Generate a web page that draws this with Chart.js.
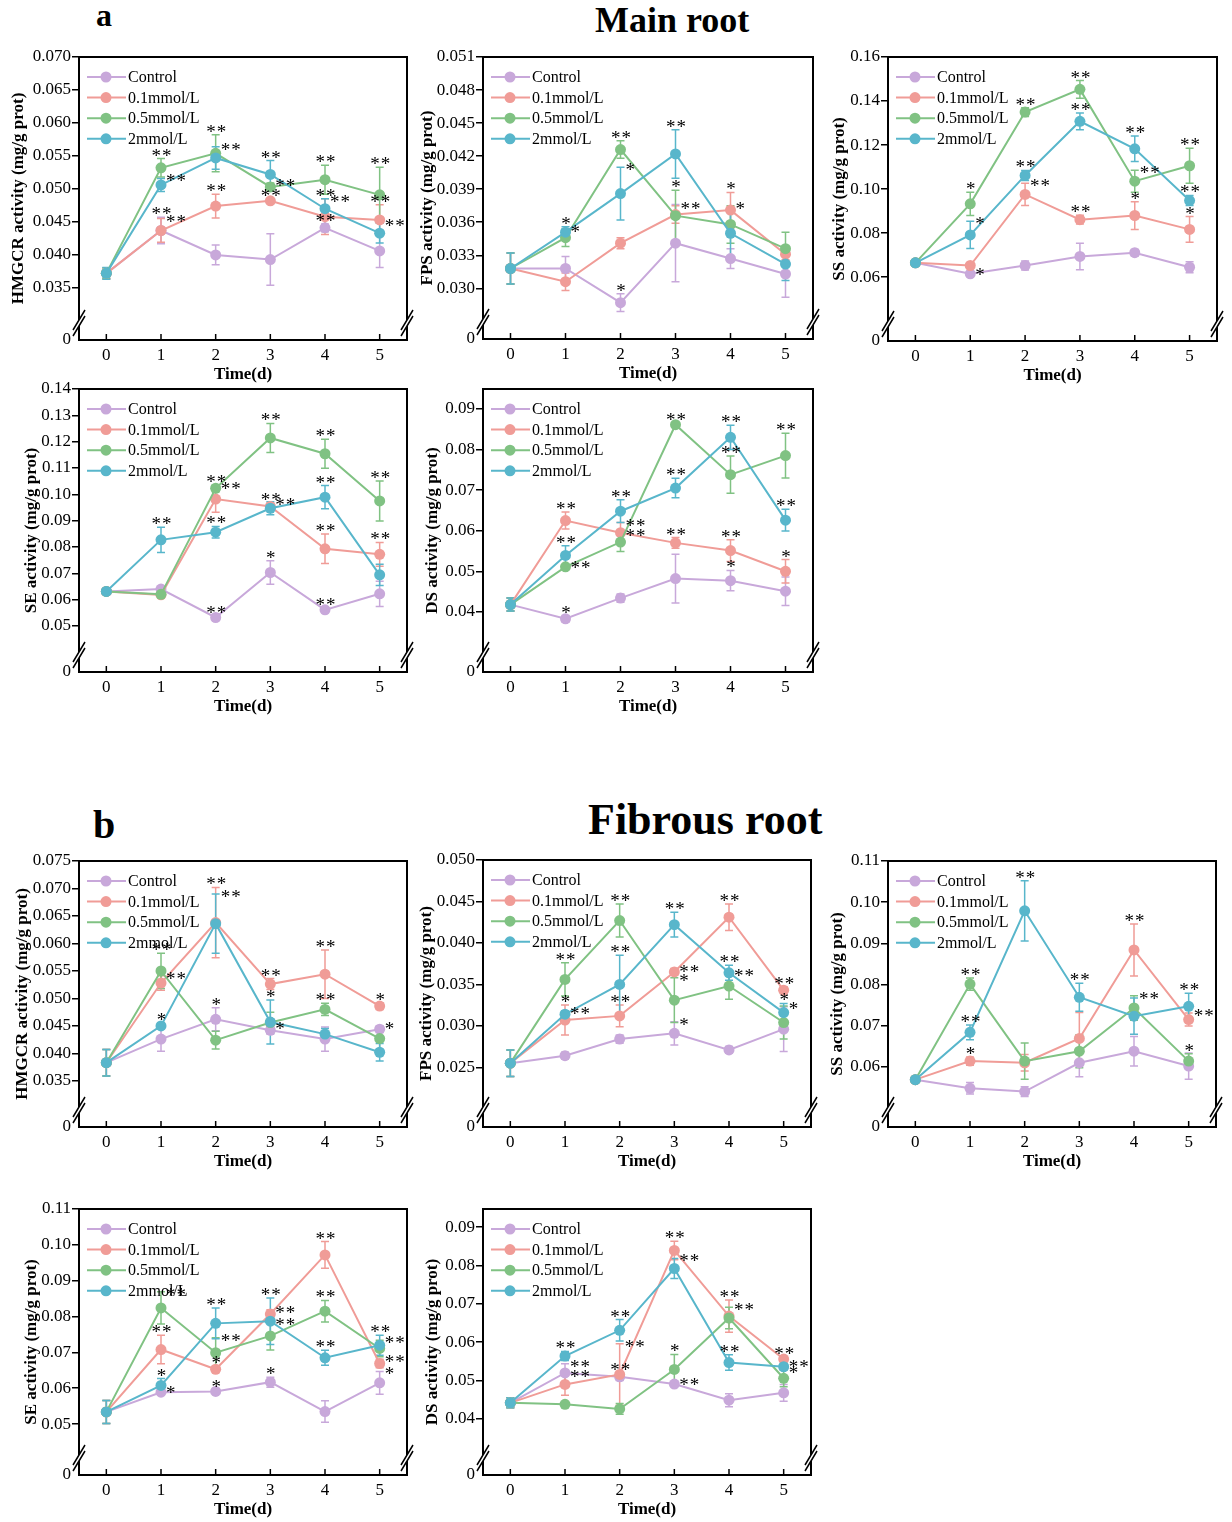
<!DOCTYPE html>
<html>
<head>
<meta charset="utf-8">
<title>Main root / Fibrous root</title>
<script src="https://cdn.jsdelivr.net/npm/chart.js@4.4.1/dist/chart.umd.min.js"></script>
<style>
  body { margin: 0; background: #fff; }
  #page { position: relative; width: 1232px; height: 1522px; overflow: hidden; font-family: "Liberation Serif", serif; color: #000; }
  #page canvas { position: absolute; }
  .lbl { position: absolute; font-weight: bold; line-height: 1; white-space: nowrap; }
</style>
</head>
<body>
<div id="page">
  <div class="lbl" style="left:96px;top:-1px;font-size:32px">a</div>
  <div class="lbl" style="left:595px;top:2px;font-size:36px">Main root</div>
  <div class="lbl" style="left:93px;top:805px;font-size:40px">b</div>
  <div class="lbl" style="left:588px;top:798px;font-size:44px">Fibrous root</div>
</div>
<script>
const days = [0, 1, 2, 3, 4, 5];
const groups = ['Control', '0.1mmol/L', '0.5mmol/L', '2mmol/L'];
const groupColors = ['#C8A8DA', '#F09C97', '#80C283', '#58B6CB'];

// rows: Control, 0.1, 0.5, 2 mmol/L ; "**" = above error bar, ">**" = right of it

// Main root - HMGCR
const mainHmgcrTicks = [0.035, 0.040, 0.045, 0.050, 0.055, 0.060, 0.065, 0.070];
const mainHmgcrMean = [
  [0.0372, 0.0437, 0.0400, 0.0393, 0.0441, 0.0406],
  [0.0372, 0.0437, 0.0474, 0.0482, 0.0458, 0.0453],
  [0.0372, 0.0532, 0.0554, 0.0503, 0.0514, 0.0491],
  [0.0372, 0.0506, 0.0547, 0.0522, 0.0470, 0.0433]];
const mainHmgcrSd = [
  [0.0008, 0.0020, 0.0015, 0.0039, 0.0006, 0.0025],
  [0.0008, 0.0018, 0.0018, 0.0003, 0.0027, 0.0023],
  [0.0008, 0.0014, 0.0028, 0.0006, 0.0022, 0.0042],
  [0.0009, 0.0010, 0.0017, 0.0021, 0.0015, 0.0015]];
const mainHmgcrSig = [
  ['', '**', '', '', '**', ''],
  ['', '>**', '**', '**', '**', '**'],
  ['', '**', '**', '>**', '**', '**'],
  ['', '>**', '>**', '**', '>**', '>**']];

// Main root - FPS
const mainFpsTicks = [0.030, 0.033, 0.036, 0.039, 0.042, 0.045, 0.048, 0.051];
const mainFpsMean = [
  [0.0318, 0.0318, 0.0287, 0.0341, 0.0327, 0.0313],
  [0.0318, 0.0306, 0.0341, 0.0367, 0.0371, 0.0331],
  [0.0318, 0.0346, 0.0426, 0.0366, 0.0358, 0.0336],
  [0.0318, 0.0351, 0.0386, 0.0422, 0.0350, 0.0322]];
const mainFpsSd = [
  [0.0014, 0.0011, 0.0008, 0.0035, 0.0009, 0.0021],
  [0.0014, 0.0008, 0.0005, 0.0008, 0.0016, 0.0005],
  [0.0014, 0.0008, 0.0008, 0.0023, 0.0017, 0.0015],
  [0.0014, 0.0005, 0.0024, 0.0022, 0.0023, 0.0015]];
const mainFpsSig = [
  ['', '', '*', '', '', ''],
  ['', '', '', '>**', '*', ''],
  ['', '>*', '**', '*', '>*', ''],
  ['', '*', '>*', '**', '', '']];

// Main root - SS
const mainSsTicks = [0.06, 0.08, 0.10, 0.12, 0.14, 0.16];
const mainSsMean = [
  [0.0665, 0.0615, 0.0653, 0.0694, 0.0711, 0.0645],
  [0.0665, 0.0653, 0.0976, 0.0861, 0.0880, 0.0817],
  [0.0665, 0.0933, 0.1350, 0.1453, 0.1036, 0.1106],
  [0.0665, 0.0792, 0.1062, 0.1308, 0.1183, 0.0948]];
const mainSsSd = [
  [0.0010, 0.0007, 0.0020, 0.0060, 0.0015, 0.0025],
  [0.0010, 0.0010, 0.0050, 0.0020, 0.0063, 0.0058],
  [0.0010, 0.0053, 0.0020, 0.0040, 0.0050, 0.0080],
  [0.0010, 0.0062, 0.0023, 0.0038, 0.0058, 0.0023]];
const mainSsSig = [
  ['', '>*', '', '', '', ''],
  ['', '', '>**', '**', '*', '*'],
  ['', '*', '**', '**', '>**', '**'],
  ['', '>*', '**', '**', '**', '**']];

// Main root - SE
const mainSeTicks = [0.05, 0.06, 0.07, 0.08, 0.09, 0.10, 0.11, 0.12, 0.13, 0.14];
const mainSeMean = [
  [0.0631, 0.0640, 0.0532, 0.0703, 0.0561, 0.0622],
  [0.0631, 0.0618, 0.0982, 0.0954, 0.0793, 0.0772],
  [0.0631, 0.0620, 0.1023, 0.1214, 0.1154, 0.0975],
  [0.0631, 0.0827, 0.0856, 0.0947, 0.0989, 0.0694]];
const mainSeSd = [
  [0.0008, 0.0008, 0.0006, 0.0045, 0.0007, 0.0048],
  [0.0008, 0.0008, 0.0050, 0.0012, 0.0056, 0.0045],
  [0.0008, 0.0008, 0.0012, 0.0055, 0.0055, 0.0076],
  [0.0008, 0.0048, 0.0022, 0.0025, 0.0044, 0.0040]];
const mainSeSig = [
  ['', '', '**', '*', '**', ''],
  ['', '', '>**', '**', '**', '**'],
  ['', '', '**', '**', '**', '**'],
  ['', '**', '**', '>**', '**', '']];

// Main root - DS
const mainDsTicks = [0.04, 0.05, 0.06, 0.07, 0.08, 0.09];
const mainDsMean = [
  [0.0418, 0.0383, 0.0434, 0.0482, 0.0477, 0.0451],
  [0.0418, 0.0625, 0.0595, 0.0570, 0.0551, 0.0500],
  [0.0418, 0.0511, 0.0572, 0.0861, 0.0738, 0.0785],
  [0.0418, 0.0539, 0.0648, 0.0705, 0.0830, 0.0626]];
const mainDsSd = [
  [0.0016, 0.0008, 0.0010, 0.0060, 0.0025, 0.0035],
  [0.0016, 0.0021, 0.0025, 0.0013, 0.0027, 0.0029],
  [0.0016, 0.0005, 0.0023, 0.0005, 0.0046, 0.0055],
  [0.0016, 0.0024, 0.0028, 0.0024, 0.0030, 0.0027]];
const mainDsSig = [
  ['', '*', '', '', '*', ''],
  ['', '**', '>**', '**', '**', '*'],
  ['', '>**', '>**', '**', '**', '**'],
  ['', '**', '**', '**', '**', '**']];

// Fibrous root - HMGCR
const fibHmgcrTicks = [0.035, 0.040, 0.045, 0.050, 0.055, 0.060, 0.065, 0.070, 0.075];
const fibHmgcrMean = [
  [0.0383, 0.0426, 0.0462, 0.0442, 0.0426, 0.0444],
  [0.0383, 0.0528, 0.0638, 0.0526, 0.0544, 0.0486],
  [0.0383, 0.0550, 0.0424, 0.0456, 0.0480, 0.0427],
  [0.0383, 0.0450, 0.0636, 0.0457, 0.0435, 0.0402]];
const fibHmgcrSd = [
  [0.0024, 0.0022, 0.0021, 0.0007, 0.0022, 0.0006],
  [0.0024, 0.0013, 0.0064, 0.0010, 0.0044, 0.0006],
  [0.0024, 0.0032, 0.0016, 0.0019, 0.0011, 0.0021],
  [0.0024, 0.0005, 0.0054, 0.0040, 0.0010, 0.0016]];
const fibHmgcrSig = [
  ['', '', '*', '>*', '', '>*'],
  ['', '>**', '**', '**', '**', '*'],
  ['', '**', '', '', '**', ''],
  ['', '*', '>**', '*', '', '']];

// Fibrous root - FPS
const fibFpsTicks = [0.025, 0.030, 0.035, 0.040, 0.045, 0.050];
const fibFpsMean = [
  [0.0255, 0.0264, 0.0284, 0.0291, 0.0271, 0.0296],
  [0.0255, 0.0307, 0.0312, 0.0365, 0.0431, 0.0343],
  [0.0255, 0.0356, 0.0427, 0.0331, 0.0348, 0.0304],
  [0.0255, 0.0314, 0.0350, 0.0422, 0.0364, 0.0316]];
const fibFpsSd = [
  [0.0016, 0.0004, 0.0005, 0.0014, 0.0004, 0.0027],
  [0.0016, 0.0018, 0.0013, 0.0004, 0.0016, 0.0004],
  [0.0016, 0.0020, 0.0020, 0.0027, 0.0016, 0.0020],
  [0.0016, 0.0004, 0.0035, 0.0015, 0.0009, 0.0011]];
const fibFpsSig = [
  ['', '', '', '>*', '', ''],
  ['', '*', '**', '>**', '**', '**'],
  ['', '**', '**', '>*', '>**', '>*'],
  ['', '>**', '**', '**', '**', '*']];

// Fibrous root - SS
const fibSsTicks = [0.06, 0.07, 0.08, 0.09, 0.10, 0.11];
const fibSsMean = [
  [0.0569, 0.0548, 0.0540, 0.0610, 0.0638, 0.0602],
  [0.0569, 0.0614, 0.0610, 0.0669, 0.0884, 0.0715],
  [0.0569, 0.0801, 0.0614, 0.0638, 0.0743, 0.0614],
  [0.0569, 0.0684, 0.0979, 0.0769, 0.0723, 0.0747]];
const fibSsSd = [
  [0.0005, 0.0014, 0.0012, 0.0034, 0.0036, 0.0032],
  [0.0005, 0.0010, 0.0020, 0.0063, 0.0063, 0.0016],
  [0.0005, 0.0015, 0.0044, 0.0040, 0.0030, 0.0018],
  [0.0005, 0.0018, 0.0073, 0.0034, 0.0044, 0.0032]];
const fibSsSig = [
  ['', '', '', '', '', ''],
  ['', '*', '', '', '**', '>**'],
  ['', '**', '', '', '>**', '*'],
  ['', '**', '**', '**', '', '**']];

// Fibrous root - SE
const fibSeTicks = [0.05, 0.06, 0.07, 0.08, 0.09, 0.10, 0.11];
const fibSeMean = [
  [0.0534, 0.0589, 0.0591, 0.0617, 0.0535, 0.0615],
  [0.0534, 0.0708, 0.0653, 0.0807, 0.0972, 0.0669],
  [0.0534, 0.0824, 0.0699, 0.0746, 0.0815, 0.0711],
  [0.0534, 0.0608, 0.0781, 0.0787, 0.0685, 0.0720]];
const fibSeSd = [
  [0.0032, 0.0006, 0.0005, 0.0014, 0.0030, 0.0032],
  [0.0032, 0.0040, 0.0008, 0.0012, 0.0037, 0.0012],
  [0.0032, 0.0045, 0.0042, 0.0039, 0.0030, 0.0023],
  [0.0032, 0.0019, 0.0043, 0.0065, 0.0021, 0.0028]];
const fibSeSig = [
  ['', '>*', '*', '*', '', '>*'],
  ['', '**', '*', '>**', '**', '>**'],
  ['', '>**', '>**', '>**', '**', '>**'],
  ['', '*', '**', '**', '**', '**']];

// Fibrous root - DS
const fibDsTicks = [0.04, 0.05, 0.06, 0.07, 0.08, 0.09];
const fibDsMean = [
  [0.0442, 0.0520, 0.0510, 0.0491, 0.0449, 0.0468],
  [0.0442, 0.0490, 0.0516, 0.0839, 0.0668, 0.0556],
  [0.0442, 0.0438, 0.0426, 0.0529, 0.0663, 0.0506],
  [0.0442, 0.0564, 0.0631, 0.0792, 0.0547, 0.0536]];
const fibDsSd = [
  [0.0013, 0.0024, 0.0010, 0.0005, 0.0017, 0.0022],
  [0.0013, 0.0028, 0.0080, 0.0024, 0.0042, 0.0005],
  [0.0013, 0.0007, 0.0014, 0.0039, 0.0028, 0.0022],
  [0.0013, 0.0012, 0.0028, 0.0026, 0.0020, 0.0008]];
const fibDsSig = [
  ['', '>**', '**', '>**', '', ''],
  ['', '>**', '>**', '**', '**', '**'],
  ['', '', '', '*', '>**', '>*'],
  ['', '**', '**', '>**', '**', '>**']];

// layout: box = plot area [left, top, right, bottom] on the page
const panels = [
  { title: 'HMGCR activity (mg/g prot)', mean: mainHmgcrMean, sd: mainHmgcrSd, sig: mainHmgcrSig, ticks: mainHmgcrTicks, dec: 3, yMin: 0.0271, yMax: 0.070, box: [79, 57, 407, 340], titleX: 18 },
  { title: 'FPS activity (mg/g prot)', mean: mainFpsMean, sd: mainFpsSd, sig: mainFpsSig, ticks: mainFpsTicks, dec: 3, yMin: 0.0254, yMax: 0.051, box: [483, 57, 813, 339], titleX: 427 },
  { title: 'SS activity (mg/g prot)', mean: mainSsMean, sd: mainSsSd, sig: mainSsSig, ticks: mainSsTicks, dec: 2, yMin: 0.031, yMax: 0.16, box: [888, 57, 1217, 341], titleX: 839 },
  { title: 'SE activity (mg/g prot)', mean: mainSeMean, sd: mainSeSd, sig: mainSeSig, ticks: mainSeTicks, dec: 2, yMin: 0.0325, yMax: 0.14, box: [79, 389, 407, 672], titleX: 31 },
  { title: 'DS activity (mg/g prot)', mean: mainDsMean, sd: mainDsSd, sig: mainDsSig, ticks: mainDsTicks, dec: 2, yMin: 0.0252, yMax: 0.0949, box: [483, 389, 813, 672], titleX: 432 },
  { title: 'HMGCR activity (mg/g prot)', mean: fibHmgcrMean, sd: fibHmgcrSd, sig: fibHmgcrSig, ticks: fibHmgcrTicks, dec: 3, yMin: 0.0266, yMax: 0.075, box: [79, 861, 407, 1127], titleX: 22 },
  { title: 'FPS activity (mg/g prot)', mean: fibFpsMean, sd: fibFpsSd, sig: fibFpsSig, ticks: fibFpsTicks, dec: 3, yMin: 0.0178, yMax: 0.050, box: [483, 860, 811, 1127], titleX: 426 },
  { title: 'SS activity (mg/g prot)', mean: fibSsMean, sd: fibSsSd, sig: fibSsSig, ticks: fibSsTicks, dec: 2, yMin: 0.0454, yMax: 0.11, box: [888, 861, 1216, 1127], titleX: 837 },
  { title: 'SE activity (mg/g prot)', mean: fibSeMean, sd: fibSeSd, sig: fibSeSig, ticks: fibSeTicks, dec: 2, yMin: 0.0358, yMax: 0.11, box: [79, 1209, 407, 1475], titleX: 31 },
  { title: 'DS activity (mg/g prot)', mean: fibDsMean, sd: fibDsSd, sig: fibDsSig, ticks: fibDsTicks, dec: 2, yMin: 0.0254, yMax: 0.0947, box: [483, 1209, 811, 1475], titleX: 432 }
];

const serif = 'Liberation Serif';

function makeExtras(p) {
  return {
    id: 'extras',
    beforeDatasetsDraw(chart) {
      const ctx = chart.ctx, xs = chart.scales.x, ys = chart.scales.y;
      ctx.save();
      ctx.lineWidth = 1.5;
      p.mean.forEach((row, i) => {
        ctx.strokeStyle = groupColors[i];
        row.forEach((v, j) => {
          const x = xs.getPixelForValue(days[j]);
          const y1 = ys.getPixelForValue(v + p.sd[i][j]);
          const y2 = ys.getPixelForValue(v - p.sd[i][j]);
          ctx.beginPath();
          ctx.moveTo(x, y1); ctx.lineTo(x, y2);
          ctx.moveTo(x - 4, y1); ctx.lineTo(x + 4, y1);
          ctx.moveTo(x - 4, y2); ctx.lineTo(x + 4, y2);
          ctx.stroke();
        });
      });
      ctx.restore();
    },
    afterDatasetsDraw(chart) {
      const ctx = chart.ctx, xs = chart.scales.x, ys = chart.scales.y;
      ctx.save();
      ctx.fillStyle = '#000';
      ctx.font = '19px "' + serif + '"';
      ctx.textBaseline = 'middle';
      ctx.letterSpacing = '1px';
      p.sig.forEach((row, i) => {
        row.forEach((s, j) => {
          if (!s) return;
          const x = xs.getPixelForValue(days[j]);
          const yTop = ys.getPixelForValue(p.mean[i][j] + p.sd[i][j]);
          if (s[0] === '>') {
            ctx.textAlign = 'left';
            ctx.fillText(s.slice(1), x + 5, yTop + 4);
          } else {
            ctx.textAlign = 'center';
            ctx.fillText(s, x + 1, yTop - 2);
          }
        });
      });
      ctx.restore();
    },
    afterDraw(chart) {
      const ctx = chart.ctx, ca = chart.chartArea, xs = chart.scales.x;
      ctx.save();
      // top and right frame
      ctx.strokeStyle = '#000';
      ctx.lineWidth = 2;
      ctx.beginPath();
      ctx.moveTo(ca.left - 1, ca.top);
      ctx.lineTo(ca.right, ca.top);
      ctx.lineTo(ca.right, ca.bottom + 1);
      ctx.stroke();
      // inward x ticks
      ctx.lineWidth = 1.5;
      days.forEach(d => {
        const x = xs.getPixelForValue(d);
        ctx.beginPath(); ctx.moveTo(x, ca.bottom); ctx.lineTo(x, ca.bottom - 6); ctx.stroke();
      });
      // axis break marks
      [ca.left, ca.right].forEach(x => {
        const cy = ca.bottom - 17;
        ctx.fillStyle = '#fff';
        ctx.beginPath();
        ctx.moveTo(x - 6, cy + 13); ctx.lineTo(x + 6, cy - 7);
        ctx.lineTo(x + 6, cy - 13); ctx.lineTo(x - 6, cy + 7);
        ctx.closePath(); ctx.fill();
        ctx.lineWidth = 1.5;
        ctx.beginPath();
        ctx.moveTo(x - 6, cy + 13); ctx.lineTo(x + 6, cy - 7);
        ctx.moveTo(x - 6, cy + 7); ctx.lineTo(x + 6, cy - 13);
        ctx.stroke();
      });
      // legend
      ctx.font = '16px "' + serif + '"';
      ctx.textBaseline = 'middle';
      ctx.textAlign = 'left';
      groups.forEach((g, i) => {
        const y = ca.top + 20 + i * 20.6;
        ctx.strokeStyle = groupColors[i];
        ctx.lineWidth = 2;
        ctx.beginPath(); ctx.moveTo(ca.left + 8, y); ctx.lineTo(ca.left + 47, y); ctx.stroke();
        ctx.fillStyle = groupColors[i];
        ctx.beginPath(); ctx.arc(ca.left + 27, y, 5.5, 0, Math.PI * 2); ctx.fill();
        ctx.fillStyle = '#000';
        ctx.fillText(g, ca.left + 49, y + 1);
      });
      ctx.restore();
    }
  };
}

const page = document.getElementById('page');
panels.forEach(p => {
  const [bl, bt, br, bb] = p.box;
  const left = p.titleX - 14;
  const padL = bl - left, padT = 12, padR = 14, padB = 50;
  const cv = document.createElement('canvas');
  cv.width = padL + (br - bl) + padR;
  cv.height = padT + (bb - bt) + padB;
  cv.style.left = left + 'px';
  cv.style.top = (bt - padT) + 'px';
  page.appendChild(cv);

  new Chart(cv, {
    type: 'line',
    data: {
      datasets: p.mean.map((row, i) => ({
        label: groups[i],
        data: row.map((v, j) => ({ x: days[j], y: v })),
        borderColor: groupColors[i],
        backgroundColor: groupColors[i],
        pointBackgroundColor: groupColors[i],
        pointBorderColor: groupColors[i],
        borderWidth: 2,
        pointRadius: 5.5,
        pointBorderWidth: 0,
        tension: 0,
        order: 3 - i
      }))
    },
    options: {
      responsive: false,
      animation: false,
      layout: { padding: { left: 0, top: padT, right: padR, bottom: 0 } },
      plugins: { legend: { display: false }, tooltip: { enabled: false } },
      scales: {
        x: {
          type: 'linear',
          min: -0.5,
          max: 5.5,
          afterBuildTicks: s => { s.ticks = days.map(v => ({ value: v })); },
          afterFit: s => { s.height = padB; },
          grid: { display: true, drawOnChartArea: false, drawTicks: false },
          border: { color: '#000', width: 2 },
          ticks: { color: '#000', padding: 5, font: { family: serif, size: 17 } },
          title: { display: true, text: 'Time(d)', color: '#000', padding: { top: 0, bottom: 5 }, font: { family: serif, size: 17, weight: 'bold' } }
        },
        y: {
          min: p.yMin,
          max: p.yMax,
          afterBuildTicks: s => { s.ticks = [{ value: p.yMin }].concat(p.ticks.map(v => ({ value: v }))); },
          afterFit: s => { s.width = padL; },
          grid: {
            drawOnChartArea: false,
            tickLength: 7,
            lineWidth: 1.5,
            color: c => (c.tick && c.tick.value === p.yMin) ? 'rgba(0,0,0,0)' : '#000'
          },
          border: { color: '#000', width: 2 },
          ticks: {
            color: '#000',
            padding: 1,
            font: { family: serif, size: 17 },
            callback: v => v === p.yMin ? '0' : v.toFixed(p.dec)
          },
          title: { display: true, text: p.title, color: '#000', padding: { top: 4, bottom: 0 }, font: { family: serif, size: 17, weight: 'bold' } }
        }
      }
    },
    plugins: [makeExtras(p)]
  });
});
</script>
</body>
</html>
